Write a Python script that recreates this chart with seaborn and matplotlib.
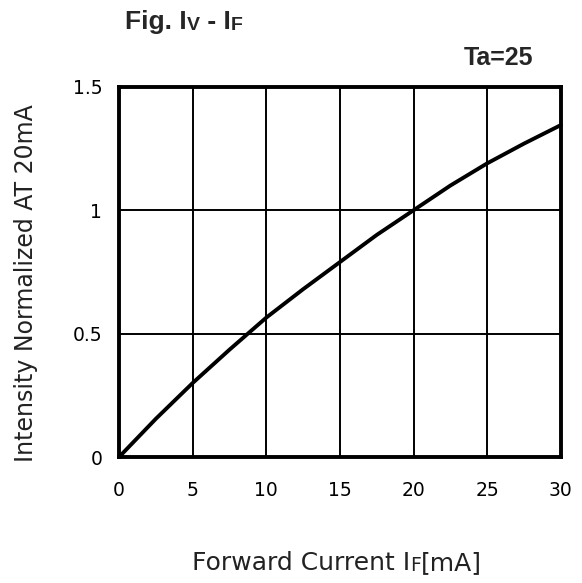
import pandas as pd
import matplotlib
matplotlib.use("Agg")
import matplotlib.pyplot as plt
import seaborn as sns

# forward current (mA) vs normalized intensity
current_ma = [0, 2.5, 5, 7.5, 10, 12.5, 15, 17.5, 20, 22.5, 25, 27.5, 30]
intensity = [0, 0.155, 0.30, 0.435, 0.565, 0.68, 0.79, 0.90, 1.0, 1.10, 1.19, 1.27, 1.345]
x_ticks = [0, 5, 10, 15, 20, 25, 30]
y_ticks = [0, 0.5, 1, 1.5]
y_tick_labels = ["0", "0.5", "1", "1.5"]

df = pd.DataFrame({"IF": current_ma, "IV": intensity})

sns.set_style("white")
plt.rcParams["font.family"] = ["DejaVu Sans"]

fig = plt.figure(figsize=(5.82, 5.83), dpi=100)
ax = fig.add_axes([0.2045, 0.216, 0.759, 0.635])

sns.lineplot(data=df, x="IF", y="IV", ax=ax, color="black", linewidth=2.8, clip_on=False)

ax.set_xlim(0, 30)
ax.set_ylim(0, 1.5)
ax.set_xticks(x_ticks)
ax.set_yticks(y_ticks)
ax.set_yticklabels(y_tick_labels)
ax.grid(True, color="black", linewidth=1.4)
ax.tick_params(length=0, labelsize=13.5, colors="black")
ax.tick_params(axis="x", pad=17)
ax.tick_params(axis="y", pad=12)
for s in ax.spines.values():
    s.set_visible(True)
    s.set_color("black")
    s.set_linewidth(2.8)
ax.set_xlabel("")
ax.set_ylabel("")

# y label
fig.text(0.044, 0.515, "Intensity Normalized AT 20mA", rotation=90,
         ha="center", va="center", fontsize=17, color="#222222")

# x label with small-caps F
t1 = fig.text(0.33, 0.022, "Forward Current I", fontsize=18, color="#222222",
              ha="left", va="baseline")
t2 = ax.annotate("F", xy=(1, 0), xycoords=t1, fontsize=13.5, color="#222222",
                 ha="left", va="bottom")
ax.annotate("[mA]", xy=(1, 0), xycoords=t2, fontsize=18, color="#222222",
            ha="left", va="bottom")

# title with small-caps V and F
bold = dict(family="Liberation Sans", fontweight="bold")
f1 = fig.text(0.215, 0.95, "Fig. I", fontsize=19, ha="left", va="baseline", **bold)
f2 = ax.annotate("V", xy=(1, 0), xycoords=f1, fontsize=14,
                 ha="left", va="bottom", **bold)
f3 = ax.annotate(" - I", xy=(1, 0), xycoords=f2, fontsize=19,
                 ha="left", va="bottom", **bold)
ax.annotate("F", xy=(1, 0), xycoords=f3, fontsize=14,
            ha="left", va="bottom", **bold)

fig.text(0.916, 0.8885, "Ta=25", fontsize=18, ha="right", va="baseline", **bold)

fig.savefig("out.png", dpi=100, facecolor="white")
